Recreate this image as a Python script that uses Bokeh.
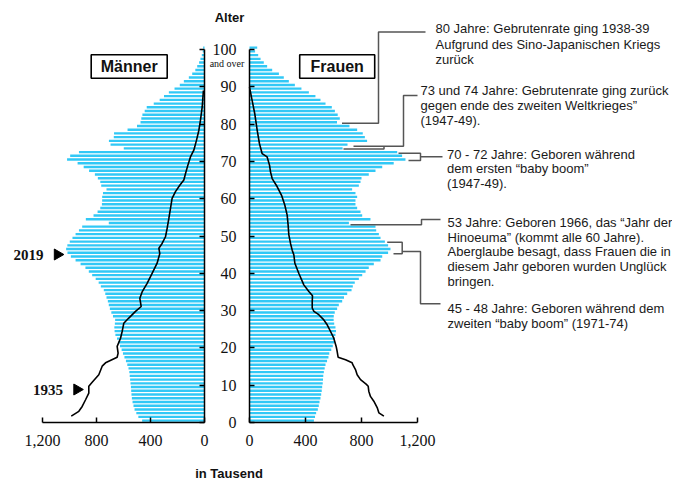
import math
from bokeh.plotting import figure
from bokeh.models import Range1d, LinearAxis, FixedTicker, NumeralTickFormatter
from bokeh.core.properties import value
from bokeh.embed import file_html
from bokeh.resources import INLINE

# ---------------- data (thousands) ----------------
ages = list(range(0, 101))          # 100 = "100 and over"
male_2019 = [462, 490, 505, 518, 526, 533, 538, 541, 543, 545,
             548, 551, 554, 557, 563, 572, 582, 593, 604, 614,
             626, 638, 648, 660, 666, 668, 664, 662, 678, 690,
             701, 709, 716, 726, 735, 746, 768, 784, 806, 832,
             857, 882, 918, 955, 990, 1015, 1025, 1016, 998, 978,
             955, 930, 906, 709, 879, 822, 792, 772, 760, 758,
             758, 752, 726, 765, 772, 790, 812, 855, 895, 940,
             1018, 995, 930, 598, 696, 708, 672, 670, 570, 500,
             474, 468, 460, 443, 428, 376, 332, 300, 264, 222,
             183, 153, 116, 91, 68, 54, 40, 30, 20, 13, 10]
female_2019 = [460, 468, 476, 488, 495, 500, 507, 512, 516, 519,
               523, 525, 527, 531, 537, 543, 554, 564, 570, 584,
               595, 605, 610, 614, 618, 614, 605, 601, 602, 609,
               626, 638, 662, 675, 698, 729, 738, 752, 781, 805,
               829, 852, 888, 936, 948, 990, 1007, 990, 967, 936,
               924, 905, 900, 710, 864, 805, 793, 769, 757, 757,
               769, 757, 733, 781, 793, 800, 852, 900, 948, 1030,
               1114, 1090, 1055, 665, 700, 840, 824, 809, 769, 714,
               625, 645, 630, 610, 588, 543, 507, 471, 424, 371,
               324, 281, 245, 210, 162, 126, 102, 79, 62, 40, 55]

age_1935_m = [1.7, 3.0, 4.3, 6.1, 7.9, 9.7, 10.8, 12.8, 15.1, 16.0, 17.5, 18.6,
              20.4, 22.6, 24.4, 26.6, 28.0, 29.8, 31.1, 33.3, 35.0, 37.3, 40.0,
              42.7, 45.3, 46.7, 48.0, 49.8, 52.0, 54.7, 57.4, 60.1, 61.9, 63.6,
              65.0, 66.7, 69.0, 71.2, 73.0, 75.7, 78.3, 81.0, 84.6, 89.0]
male_1935 = [987, 931, 906, 881, 857, 857, 832, 783, 758, 733, 647, 640,
             647, 622, 610, 598, 561, 511, 469, 479, 462, 425, 388,
             351, 331, 338, 314, 289, 277, 264, 252, 240, 215, 183,
             153, 141, 123, 104, 79, 59, 42, 30, 17, 8]
age_1935_f = [1.7, 2.6, 4.0, 5.7, 7.0, 8.4, 9.7, 10.3, 11.5, 12.8, 14.2, 15.5,
              16.0, 16.8, 17.5, 19.1, 20.4, 22.6, 24.4, 26.2, 27.5, 28.9, 29.8,
              30.7, 32.4, 34.0, 35.1, 36.9, 40.0, 42.7, 44.9, 46.2, 48.0, 50.3,
              52.9, 55.6, 58.3, 60.9, 63.2, 65.4, 67.2, 69.0, 71.2, 72.1, 74.8,
              78.3, 82.7, 86.3, 89.9]
female_1935 = [960, 924, 912, 888, 864, 852, 848, 833, 793, 769, 757, 738,
               733, 686, 633, 626, 619, 602, 579, 555, 531, 495, 460,
               448, 448, 450, 424, 388, 352, 324, 317, 305, 293, 281,
               276, 269, 252, 229, 198, 162, 150, 143, 126, 90, 71,
               55, 38, 19, 0]

age_ticks = [0, 10, 20, 30, 40, 50, 60, 70, 80, 90, 100]
x_ticks = [0, 400, 800, 1200]

notes = [
    "80 Jahre: Gebrutenrate ging 1938-39",
    "Aufgrund des Sino-Japanischen Kriegs",
    "zurück",
    "73 und 74 Jahre: Gebrutenrate ging zurück",
    "gegen ende des zweiten Weltkrieges”",
    "(1947-49).",
    "70 - 72 Jahre: Geboren während",
    "dem ersten “baby boom”",
    "(1947-49).",
    "53 Jahre: Geboren 1966, das “Jahr der",
    "Hinoeuma” (kommt alle 60 Jahre).",
    "Aberglaube besagt, dass Frauen die in",
    "diesem Jahr geboren wurden Unglück",
    "bringen.",
    "45 - 48 Jahre: Geboren während dem",
    "zweiten “baby boom” (1971-74)",
]

# ---------------- layout / geometry (screen pixels) ----------------
W, H = 672, 481
OX, OY = 0, 0
Y0, PX_YR = 422.0, 3.73
XL0, PX_L = 204.0, 162.0 / 1200
XR0, PX_R = 249.0, 168.0 / 1200

BAR = "#31c8f6"
SERIF_NAME = "Liberation Serif"
SERIF = value(SERIF_NAME)
SANS = value("Liberation Sans")

p = figure(width=W, height=H, output_backend="svg", toolbar_location=None,
           x_range=Range1d(OX, OX + W),
           y_range=Range1d((Y0 - (OY + H)) / PX_YR, (Y0 - OY) / PX_YR),
           x_axis_location=None, y_axis_location=None,
           min_border=0, outline_line_color=None)
p.extra_x_ranges = {
    "left": Range1d((XL0 - OX) / PX_L, (XL0 - (OX + W)) / PX_L),
    "right": Range1d((OX - XR0) / PX_R, (OX + W - XR0) / PX_R),
}
p.extra_y_ranges = {"px": Range1d(OY + H, OY)}
p.grid.visible = False
p.background_fill_color = "white"
p.border_fill_color = "white"

bar_y = [a + 0.5 for a in ages]
p.hbar(y=bar_y, height=0.64, left=0, right=male_2019, x_range_name="left",
       fill_color=BAR, line_color=None)
p.hbar(y=bar_y, height=0.64, left=0, right=female_2019, x_range_name="right",
       fill_color=BAR, line_color=None)

p.line(x=male_1935, y=age_1935_m, x_range_name="left", line_color="black", line_width=1.6)
p.line(x=female_1935, y=age_1935_f, x_range_name="right", line_color="black", line_width=1.6)

# ---------------- axes ----------------
def x_axis(name):
    ax = LinearAxis(x_range_name=name, fixed_location=0, bounds=(0, 1200),
                    ticker=FixedTicker(ticks=x_ticks),
                    formatter=NumeralTickFormatter(format="0,0"),
                    major_tick_in=5, major_tick_out=0,
                    minor_tick_in=0, minor_tick_out=0,
                    major_label_standoff=12,
                    axis_line_width=1.5, major_tick_line_width=1.5,
                    major_label_text_font=SERIF_NAME,
                    major_label_text_font_size="16px",
                    major_label_text_color="#111111")
    p.add_layout(ax, "below")

x_axis("left")
x_axis("right")

ay_l = LinearAxis(x_range_name="left", fixed_location=0, bounds=(0, 100),
                  ticker=FixedTicker(ticks=age_ticks),
                  major_tick_in=0, major_tick_out=5,
                  minor_tick_in=0, minor_tick_out=0,
                  axis_line_width=1.5, major_tick_line_width=1.5,
                  major_label_overrides={t: "" for t in age_ticks})
p.add_layout(ay_l, "left")

ay_r = LinearAxis(x_range_name="right", fixed_location=0, bounds=(0, 100),
                  ticker=FixedTicker(ticks=age_ticks),
                  major_tick_in=5, major_tick_out=0,
                  minor_tick_in=0, minor_tick_out=0,
                  major_label_standoff=13,
                  axis_line_width=1.5, major_tick_line_width=1.5,
                  major_label_text_font=SERIF_NAME,
                  major_label_text_font_size="16px",
                  major_label_text_color="#111111")
p.add_layout(ay_r, "left")

# ---------------- texts ----------------
def txt(x, y, s, size, font=SANS, style="normal", align="center", color="#111111"):
    p.text(x=[x], y=[y], text=[s], y_range_name="px", text_font=font,
           text_font_size=size, text_font_style=style, text_align=align,
           text_baseline="middle", text_color=color)

txt(229, 17, "Alter", "13px", style="bold")
txt(228.5, 473, "in Tausend", "13px", style="bold")
txt(226.5, 62.5, "and over", "10px", font=SERIF)

# gender boxes
p.rect(x=[128.7, 336.7], y=[66, 66], width=[76, 75], height=[23.5, 23.5],
       y_range_name="px", fill_color="white", line_color="black", line_width=1.6)
txt(128.7, 66, "Männer", "16px", style="bold")
txt(336.7, 66, "Frauen", "16px", style="bold")

# year markers
txt(28, 254, "2019", "15px", font=SERIF, style="bold")
txt(47.5, 389, "1935", "15px", font=SERIF, style="bold")
p.scatter(x=[57, 76.5], y=[254, 389], marker="triangle", size=11,
          angle=-math.pi / 2, y_range_name="px", color="black")

# annotation leaders
lead_xs = [[341.5, 378, 378, 425], [353, 403, 403, 417], [343, 383.5, 383.5],
           [398, 420, 420, 408], [420, 442], [350, 421, 421, 440],
           [386.7, 401.7, 401.7, 393], [401.7, 420, 420, 440]]
lead_ys = [[122.7, 122.7, 31.5, 31.5], [145.7, 145.7, 95, 95], [148.5, 148.5, 145.7],
           [152.7, 152.7, 160, 160], [156.3, 156.3], [224.3, 224.3, 219, 219],
           [241.7, 241.7, 253.3, 253.3], [251, 251, 303.3, 303.3]]
p.multi_line(xs=lead_xs, ys=lead_ys, y_range_name="px", line_color="#555555",
             line_width=1.5)

note_x = [435, 435, 435, 420, 420, 420, 446.5, 446.5, 446.5,
          447, 447, 447, 447, 447, 447, 447]
note_y = [28.3, 43.8, 59.3, 90, 105, 119.5, 153.5, 168, 182.7,
          221.7, 236.7, 251.3, 266, 280.7, 308.3, 323.3]
p.text(x=note_x, y=note_y, text=notes, y_range_name="px", text_font=SANS,
       text_font_size="13px", text_align="left", text_baseline="middle",
       text_color="#1a1a1a")

open("out.html", "w").write(file_html(p, INLINE))
